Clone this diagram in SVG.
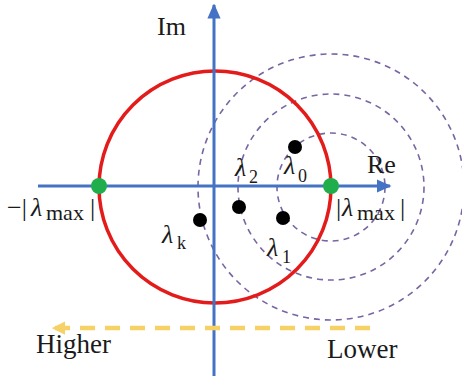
<svg xmlns="http://www.w3.org/2000/svg" width="462" height="379" viewBox="0 0 462 379">
  <style>
    .t { font-family: "Liberation Serif", "Times New Roman", serif; fill: #1a1a1a; }
    .lam { font-style: italic; font-size: 26px; }
    .sub { font-size: 18px; }
    .dash { fill: none; stroke: #7866a3; stroke-width: 1.6; stroke-dasharray: 6 5; }
    .axis { stroke: #4472c4; stroke-width: 3; fill: none; }
    .dot { fill: #000; }
    .green { fill: #1fae4b; }
  </style>
  <defs>
    <marker id="ah" markerWidth="5" markerHeight="4.4" refX="4.5" refY="2.2" orient="auto" markerUnits="strokeWidth">
      <path d="M0,0 L5,2.2 L0,4.4 Z" fill="#4472c4"/>
    </marker>
    <marker id="ay" markerWidth="3" markerHeight="3" refX="2.5" refY="1.5" orient="auto" markerUnits="strokeWidth">
      <path d="M0,0 L3,1.5 L0,3 Z" fill="#f5d166"/>
    </marker>
  </defs>

  <g id="connectors">
    <g id="ranges">
      <circle class="dash" cx="331" cy="187" r="54"/>
      <circle class="dash" cx="331" cy="187" r="93"/>
      <circle class="dash" cx="331" cy="187" r="133"/>
    </g>
    <circle id="spectral-circle" cx="215" cy="187" r="116" fill="none" stroke="#e31b1b" stroke-width="3.5"/>
    <line id="re-axis" class="axis" x1="38" y1="186" x2="390" y2="186" marker-end="url(#ah)"/>
    <line id="im-axis" class="axis" x1="214" y1="376" x2="214" y2="5" marker-end="url(#ah)"/>
    <line id="order-arrow" x1="370" y1="328" x2="54" y2="328" stroke="#f5d166" stroke-width="4.5" stroke-dasharray="15 10" marker-end="url(#ay)"/>
  </g>

  <g id="axis-labels">
    <text class="t" x="157" y="35" font-size="26">Im</text>
    <text class="t" x="367" y="173" font-size="26">Re</text>
  </g>

  <g id="node-neg-max">
    <circle class="green" cx="99" cy="186" r="8"/>
    <text class="t" x="7" y="216" font-size="26">−|</text>
    <text class="t lam" x="31" y="216">λ</text>
    <text class="t" x="46" y="220" font-size="22">max</text>
    <text class="t" x="90" y="216" font-size="26">|</text>
  </g>

  <g id="node-pos-max">
    <circle class="green" cx="331" cy="186" r="8"/>
    <text class="t" x="336" y="216" font-size="26">|</text>
    <text class="t lam" x="342" y="216">λ</text>
    <text class="t" x="357" y="220" font-size="22">max</text>
    <text class="t" x="400" y="216" font-size="26">|</text>
  </g>

  <g id="node-lambda0">
    <circle class="dot" cx="295" cy="147" r="7"/>
    <text class="t lam" x="284" y="174">λ</text>
    <text class="t sub" x="298" y="182">0</text>
  </g>

  <g id="node-lambda2">
    <circle class="dot" cx="239" cy="207" r="7"/>
    <text class="t lam" x="235" y="176">λ</text>
    <text class="t sub" x="249" y="183">2</text>
  </g>

  <g id="node-lambdak">
    <circle class="dot" cx="200" cy="220" r="7"/>
    <text class="t lam" x="162" y="243">λ</text>
    <text class="t sub" x="177" y="249">k</text>
  </g>

  <g id="node-lambda1">
    <circle class="dot" cx="283" cy="218" r="7"/>
    <text class="t lam" x="267" y="256">λ</text>
    <text class="t sub" x="282" y="263">1</text>
  </g>

  <g id="order-labels">
    <text class="t" x="36" y="353" font-size="27">Higher</text>
    <text class="t" x="327" y="358" font-size="27">Lower</text>
  </g>
</svg>
